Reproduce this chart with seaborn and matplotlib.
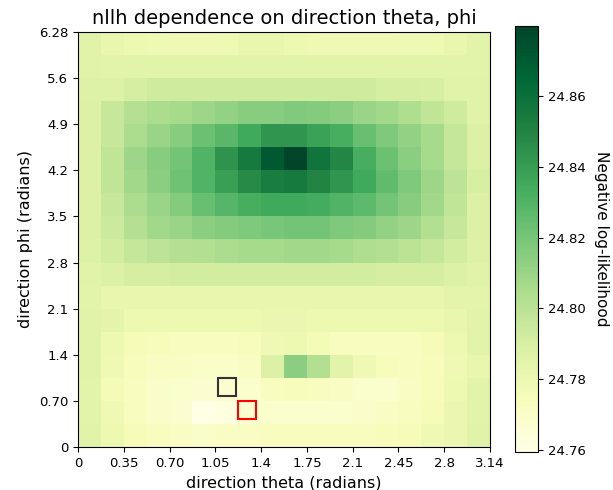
import numpy as np
import pandas as pd
import matplotlib
matplotlib.use("Agg")
import matplotlib.pyplot as plt
import seaborn as sns

# nllh grid: rows from top (phi high) to bottom (phi = 0), columns theta 0 -> pi
nllh_rows = [
    [24.786, 24.782, 24.780, 24.779, 24.778, 24.778, 24.779, 24.782, 24.782, 24.780, 24.778, 24.778, 24.778, 24.778, 24.779, 24.779, 24.782, 24.785],
    [24.786, 24.785, 24.785, 24.785, 24.785, 24.785, 24.785, 24.785, 24.785, 24.785, 24.785, 24.785, 24.785, 24.785, 24.785, 24.785, 24.785, 24.785],
    [24.787, 24.787, 24.791, 24.793, 24.793, 24.793, 24.793, 24.793, 24.793, 24.793, 24.793, 24.793, 24.793, 24.791, 24.791, 24.790, 24.786, 24.786],
    [24.788, 24.796, 24.802, 24.805, 24.806, 24.809, 24.812, 24.815, 24.815, 24.817, 24.816, 24.814, 24.810, 24.808, 24.804, 24.798, 24.793, 24.786],
    [24.788, 24.796, 24.805, 24.810, 24.815, 24.823, 24.828, 24.835, 24.843, 24.843, 24.838, 24.833, 24.824, 24.818, 24.812, 24.806, 24.797, 24.788],
    [24.788, 24.798, 24.809, 24.815, 24.821, 24.830, 24.844, 24.855, 24.871, 24.8798, 24.858, 24.849, 24.833, 24.823, 24.814, 24.806, 24.797, 24.788],
    [24.788, 24.798, 24.808, 24.814, 24.822, 24.830, 24.839, 24.847, 24.853, 24.855, 24.850, 24.843, 24.835, 24.826, 24.818, 24.809, 24.799, 24.790],
    [24.788, 24.796, 24.805, 24.810, 24.816, 24.824, 24.829, 24.833, 24.835, 24.835, 24.834, 24.830, 24.827, 24.821, 24.815, 24.808, 24.798, 24.788],
    [24.788, 24.794, 24.802, 24.808, 24.810, 24.814, 24.816, 24.818, 24.820, 24.821, 24.821, 24.818, 24.816, 24.812, 24.809, 24.803, 24.796, 24.788],
    [24.787, 24.792, 24.797, 24.799, 24.802, 24.803, 24.805, 24.806, 24.806, 24.808, 24.808, 24.806, 24.804, 24.803, 24.800, 24.797, 24.792, 24.787],
    [24.786, 24.788, 24.791, 24.791, 24.792, 24.792, 24.792, 24.792, 24.792, 24.792, 24.792, 24.792, 24.792, 24.791, 24.791, 24.791, 24.788, 24.786],
    [24.785, 24.782, 24.782, 24.782, 24.782, 24.782, 24.782, 24.782, 24.782, 24.782, 24.782, 24.782, 24.782, 24.782, 24.782, 24.782, 24.784, 24.784],
    [24.786, 24.784, 24.780, 24.780, 24.780, 24.780, 24.780, 24.780, 24.781, 24.781, 24.780, 24.780, 24.780, 24.780, 24.780, 24.780, 24.782, 24.785],
    [24.786, 24.780, 24.775, 24.774, 24.773, 24.773, 24.773, 24.774, 24.778, 24.780, 24.776, 24.773, 24.773, 24.773, 24.773, 24.775, 24.780, 24.785],
    [24.786, 24.778, 24.774, 24.771, 24.771, 24.770, 24.770, 24.771, 24.788, 24.814, 24.803, 24.785, 24.778, 24.774, 24.773, 24.774, 24.778, 24.782],
    [24.785, 24.776, 24.773, 24.769, 24.768, 24.767, 24.767, 24.768, 24.773, 24.774, 24.773, 24.771, 24.768, 24.768, 24.771, 24.774, 24.780, 24.785],
    [24.785, 24.778, 24.773, 24.769, 24.767, 24.7594, 24.762, 24.767, 24.768, 24.768, 24.768, 24.768, 24.769, 24.771, 24.773, 24.775, 24.781, 24.785],
    [24.786, 24.780, 24.775, 24.773, 24.771, 24.770, 24.771, 24.771, 24.773, 24.773, 24.773, 24.773, 24.773, 24.774, 24.775, 24.778, 24.781, 24.786],
]

theta_tick_labels = ["0", "0.35", "0.70", "1.05", "1.4", "1.75", "2.1", "2.45", "2.8", "3.14"]
phi_tick_labels = ["0", "0.70", "1.4", "2.1", "2.8", "3.5", "4.2", "4.9", "5.6", "6.28"]

# marked directions (theta, phi)
true_dir = [1.136, 0.913]
fit_dir = [1.285, 0.555]

n_phi = len(nllh_rows)
n_theta = len(nllh_rows[0])
df = pd.DataFrame(nllh_rows)

W, H = 613, 490
fig = plt.figure(figsize=(W / 100, H / 100), dpi=100)
ax = fig.add_axes([78 / W, (H - 447) / H, 412 / W, 415 / H])
cax = fig.add_axes([515 / W, (H - 452) / H, 23 / W, 426 / H])

sns.heatmap(df, ax=ax, cbar_ax=cax, cmap="YlGn", xticklabels=False, yticklabels=False)

for s in ax.spines.values():
    s.set_visible(True)
    s.set_linewidth(0.8)
    s.set_color("black")

cbar = ax.collections[0].colorbar
cbar.outline.set_visible(True)
cbar.outline.set_linewidth(0.8)
cbar.outline.set_edgecolor("black")
cbar.ax.tick_params(labelsize=9.5, length=3.5)
cbar.set_label("Negative log-likelihood", rotation=270, labelpad=17, fontsize=11)

def tx(theta):
    return theta / np.pi * n_theta

def ty(phi):
    return n_phi * (1 - phi / (2 * np.pi))

nt = len(theta_tick_labels)
ax.set_xticks([tx(np.pi * k / (nt - 1)) for k in range(nt)])
ax.set_xticklabels(theta_tick_labels, rotation=0, fontsize=9.5)
ax.set_yticks([ty(2 * np.pi * k / (nt - 1)) for k in range(nt)])
ax.set_yticklabels(phi_tick_labels, rotation=0, fontsize=9.5)
ax.tick_params(length=3.5, width=0.8)

ax.plot([tx(true_dir[0])], [ty(true_dir[1])], marker="s", markersize=13,
        markerfacecolor="none", markeredgecolor="#333333", markeredgewidth=1.5, linestyle="none")
ax.plot([tx(fit_dir[0])], [ty(fit_dir[1])], marker="s", markersize=13,
        markerfacecolor="none", markeredgecolor="red", markeredgewidth=1.5, linestyle="none")

ax.set_xlabel("direction theta (radians)", fontsize=11.5)
ax.set_ylabel("direction phi (radians)", fontsize=11.5)
ax.set_title("nllh dependence on direction theta, phi", fontsize=14)

fig.savefig("out.png", dpi=100)
